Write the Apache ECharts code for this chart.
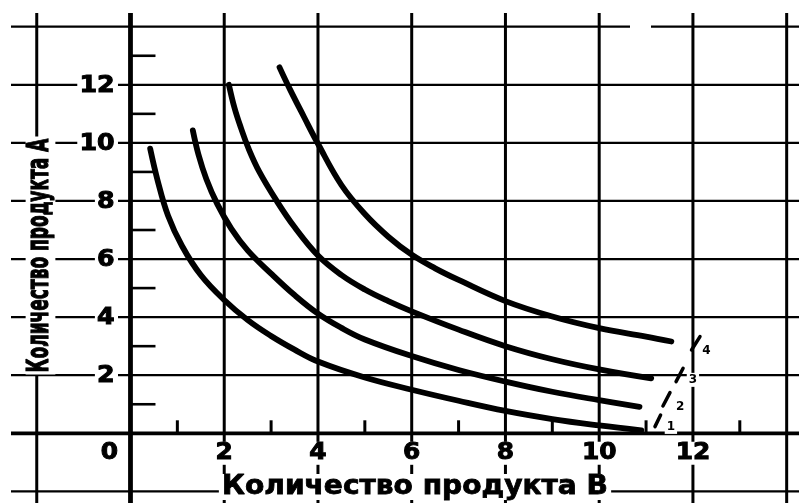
<!DOCTYPE html>
<html><head><meta charset="utf-8">
<script src="https://cdn.jsdelivr.net/npm/echarts@6/dist/echarts.min.js"></script>
<style>html,body{margin:0;padding:0;background:#fff}#chart{width:799px;height:503px}</style>
</head><body><div id="chart"></div><script>
// ---- data ----
const xGridValues = [-2, 0, 2, 4, 6, 8, 10, 12, 14];
const yGridValues = [-2, 0, 2, 4, 6, 8, 10, 12, 14];
const xMinorTicks = [1, 3, 5, 7, 9, 11, 13];
const yMinorTicks = [1, 3, 5, 7, 9, 11, 13];
const xTickLabels = ['0', '2', '4', '6', '8', '10', '12'];
const yTickLabels = ['2', '4', '6', '8', '10', '12'];
const xAxisTitle = 'Количество продукта В';
const yAxisTitle = 'Количество продукта А';

const curve1 = [[0.42,9.8],[0.58,8.7],[0.8,7.5],[1.1,6.45],[1.5,5.45],[2.0,4.59],[2.5,3.9],[3.0,3.35],[3.5,2.88],[4.0,2.47],[5.0,1.92],[6.0,1.5],[7.0,1.12],[8.0,0.77],[9.0,0.49],[10.0,0.27],[10.9,0.1]];
const curve2 = [[1.33,10.43],[1.45,9.6],[1.62,8.75],[1.85,7.9],[2.15,7.05],[2.5,6.3],[3.0,5.5],[3.5,4.76],[4.0,4.12],[4.5,3.63],[5.0,3.23],[6.0,2.66],[7.0,2.18],[8.0,1.78],[9.0,1.43],[10.0,1.14],[10.86,0.91]];
const curve3 = [[2.1,12.0],[2.22,11.2],[2.36,10.5],[2.52,9.8],[2.75,9.0],[3.12,8.0],[3.5,7.1],[4.0,6.12],[4.5,5.45],[5.0,4.95],[5.5,4.55],[6.0,4.2],[7.0,3.57],[8.0,3.0],[9.0,2.55],[10.0,2.2],[11.11,1.89]];
const curve4 = [[3.18,12.6],[3.4,11.85],[3.7,10.9],[4.0,9.97],[4.5,8.55],[5.0,7.55],[5.5,6.77],[6.0,6.15],[6.5,5.68],[7.0,5.28],[8.0,4.55],[9.0,4.02],[10.0,3.62],[11.0,3.33],[11.54,3.16]];
const curveNames = ['1', '2', '3', '4'];
const tagDashes = [[[11.19,0.23],[11.31,0.63]], [[11.36,0.94],[11.51,1.40]], [[11.64,1.78],[11.79,2.24]], [[11.97,2.87],[12.15,3.33]]];
const tagLabelAt = [[11.53,0.22], [11.73,0.92], [12.0,1.84], [12.29,2.83]];

// ---- chart ----
const chart = echarts.init(document.getElementById('chart'), null, {renderer: 'canvas'});
const FONT = '"DejaVu Sans", "Liberation Sans", sans-serif';

function renderFrame(params, api) {
  const cs = params.coordSys;
  const right = cs.x + cs.width, bottom = cs.y + cs.height;
  const origin = api.coord([0, 0]);
  const ch = [];
  xGridValues.forEach(v => {
    const px = api.coord([v, 0])[0];
    ch.push({type: 'line', shape: {x1: px, y1: 13, x2: px, y2: bottom},
      style: {stroke: '#000', lineWidth: v === 0 ? 4.8 : 3}});
  });
  yGridValues.forEach((v, i) => {
    const py = api.coord([0, v])[1];
    const w = v === 0 ? 3.8 : 2.2;
    if (i === yGridValues.length - 1) {
      ch.push({type: 'line', shape: {x1: 11, y1: py, x2: 630, y2: py}, style: {stroke: '#000', lineWidth: w}});
      ch.push({type: 'line', shape: {x1: 651, y1: py, x2: right, y2: py}, style: {stroke: '#000', lineWidth: w}});
    } else {
      ch.push({type: 'line', shape: {x1: 11, y1: py, x2: right, y2: py}, style: {stroke: '#000', lineWidth: w}});
    }
  });
  yMinorTicks.forEach(v => {
    const py = api.coord([0, v])[1];
    ch.push({type: 'line', shape: {x1: origin[0], y1: py, x2: origin[0] + 25, y2: py}, style: {stroke: '#000', lineWidth: 2.6}});
  });
  xMinorTicks.forEach(v => {
    const px = api.coord([v, 0])[0];
    ch.push({type: 'line', shape: {x1: px, y1: origin[1], x2: px, y2: origin[1] - 13}, style: {stroke: '#000', lineWidth: 3}});
  });
  return {type: 'group', children: ch};
}

function renderText(params, api) {
  const origin = api.coord([0, 0]);
  const ch = [];
  xTickLabels.forEach(s => {
    const v = Number(s);
    const px = api.coord([v, 0])[0] + (v === 0 ? -21 : 0);
    ch.push({type: 'text', x: px, y: origin[1] + 20, scaleX: 1.08,
      style: {text: s, font: 'bold 23px ' + FONT, fill: '#000', stroke: '#000', lineWidth: 1,
        align: 'center', verticalAlign: 'middle', backgroundColor: '#fff', padding: [0, 2, 0, 2]}});
  });
  yTickLabels.forEach(s => {
    const v = Number(s);
    const py = api.coord([0, v])[1];
    ch.push({type: 'text', x: origin[0] - 12.5, y: py + 1, scaleX: 1.1,
      style: {text: s, font: 'bold 23px ' + FONT, fill: '#000', stroke: '#000', lineWidth: 1,
        align: 'right', verticalAlign: 'middle', backgroundColor: '#fff', padding: [0, 3, 0, 2]}});
  });
  // axis titles
  ch.push({type: 'text', x: 415, y: 487, scaleX: 1.08,
    style: {text: xAxisTitle, font: 'bold 26px ' + FONT, fill: '#000', stroke: '#000', lineWidth: 0.8,
      align: 'center', verticalAlign: 'middle', backgroundColor: '#fff', padding: [0, 3, 0, 3]}});
  ch.push({type: 'text', x: 40.5, y: 255.5, rotation: Math.PI / 2, scaleY: 1.75,
    style: {text: yAxisTitle, font: 'bold 17px ' + FONT, fill: '#000', stroke: '#000', lineWidth: 0.7,
      align: 'center', verticalAlign: 'middle', backgroundColor: '#fff', padding: [0, 2, 0, 2]}});
  // curve tags
  curveNames.forEach((n, i) => {
    const a = api.coord(tagDashes[i][0]), b = api.coord(tagDashes[i][1]);
    const l = api.coord(tagLabelAt[i]);
    ch.push({type: 'text', x: l[0], y: l[1], style: {text: n, font: 'bold 12px ' + FONT, fill: '#000',
      align: 'center', verticalAlign: 'middle', backgroundColor: '#fff', padding: [1, 2, 1, 2]}});
    ch.push({type: 'line', shape: {x1: a[0], y1: a[1], x2: b[0], y2: b[1]},
      style: {stroke: '#000', lineWidth: 3.5, lineCap: 'round'}});
  });
  return {type: 'group', children: ch};
}

const curves = [curve1, curve2, curve3, curve4];
const option = {
  backgroundColor: '#fff',
  animation: false,
  grid: {left: 0, right: 0, top: 0, bottom: 0},
  xAxis: {type: 'value', min: -2.784, max: 14.263, show: false, splitLine: {show: false}},
  yAxis: {type: 'value', min: -2.40, max: 14.92, show: false, splitLine: {show: false}},
  series: [
    {type: 'custom', coordinateSystem: 'cartesian2d', data: [[0, 0]], renderItem: renderFrame, silent: true, z: 1},
    ...curves.map((c, i) => ({
      type: 'line', name: curveNames[i], data: c, showSymbol: false, symbol: 'none', smooth: 0.4,
      lineStyle: {color: '#000', width: 5.8, cap: 'round'}, silent: true, z: 2, clip: false
    })),
    {type: 'custom', coordinateSystem: 'cartesian2d', data: [[0, 0]], renderItem: renderText, silent: true, z: 3}
  ]
};
chart.setOption(option);
</script></body></html>
